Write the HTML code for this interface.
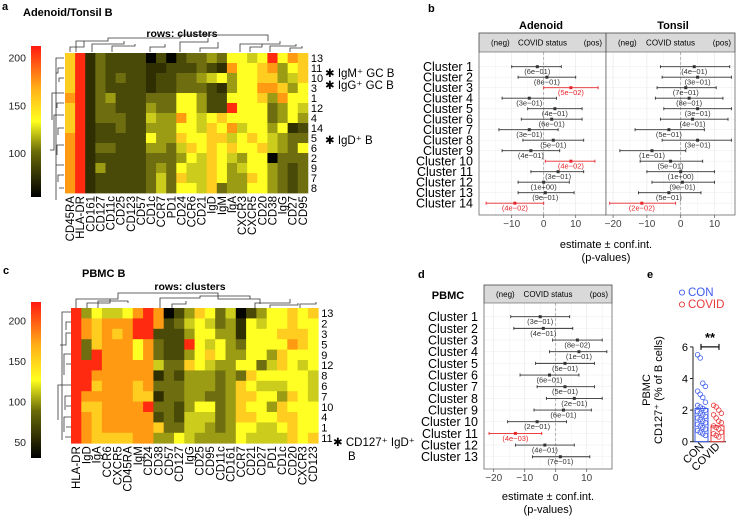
<!DOCTYPE html>
<html><head><meta charset="utf-8"><style>
html,body{margin:0;padding:0;background:#fff;}
svg{display:block;font-family:"Liberation Sans",sans-serif;}
</style></head><body>
<svg id="fig" width="736" height="517" viewBox="0 0 736 517" xmlns="http://www.w3.org/2000/svg">
<defs>
<linearGradient id="cbar" x1="0" y1="1" x2="0" y2="0">
<stop offset="0" stop-color="#000000"/><stop offset="0.3" stop-color="#6a6a08"/><stop offset="0.5" stop-color="#ffff20"/><stop offset="0.72" stop-color="#ffb018"/><stop offset="1" stop-color="#ff1a10"/>
</linearGradient>
</defs>
<g font-weight="bold" font-size="11">
<text x="2" y="10">a</text><text x="428" y="12">b</text><text x="3" y="274">c</text><text x="418" y="278">d</text><text x="647" y="278">e</text>
</g>
<text x="23" y="16" font-size="11" font-weight="bold">Adenoid/Tonsil B</text>
<text x="182" y="37" font-size="10.5" font-weight="bold" text-anchor="middle">rows: clusters</text>
<text x="82" y="277" font-size="11" font-weight="bold">PBMC B</text>
<text x="190" y="290" font-size="10.5" font-weight="bold" text-anchor="middle">rows: clusters</text>

<g fill="none" stroke="#333" stroke-width="0.8">
<path d="M76 52V41H108V38H180V35H268V41 M70 52V47H84V41 M92 52V44H124V41 M112 52V46H135V44 M150 52V47H165V44 M180 52V42H208V38 M200 52V48H218V42 M240 52V44H280V41 M250 52V47H262V44 M270 52V46H296V44 M290 52V48H302V46"/>
<path d="M64 58H56V200 M64 68H58V73H56 M64 78H59V82 M64 93H52V120 M64 103H57V108 M64 115H54V150H50 M64 128H58V135 M64 145H57V155 M64 165H56V180 M64 175H58V182 M64 188H59"/>
</g>
<g fill="none" stroke="#333" stroke-width="0.8">
<path d="M76 308V299H118V293H218V299H260V304 M87 308V303H110V299 M98 308V301H128V303 M160 308V298H200V296H250V299 M172 308V304H186V301 M255 308V303H290V299 M270 308V305H298V303 M300 308V304H316V302"/>
<path d="M71 312H62V440 M71 322H66V330 M71 333H66V345H60 M71 354H64V375 M71 364H66 M71 385H58V420 M71 396H65V410 M71 406H66 M71 417H64V432 M71 427H66 M71 437H65"/>
</g>

<g id="hmA"></g>
<g id="hmC"></g>
<g id="fb"></g>
<g id="fd"></g>
<g id="pe"></g>
</svg>
<script>
const NS='http://www.w3.org/2000/svg';
function mk(tag,attrs,parent,text){const e=document.createElementNS(NS,tag);for(const k in attrs)e.setAttribute(k,attrs[k]);if(text!==undefined)e.textContent=text;parent.appendChild(e);return e;}

// ---------- Heatmap data ----------
const colsA=['CD45RA','HLA-DR','CD161','CD127','CD11c','CD25','CD123','CD57','CD1c','CCR7','PD1','CD24','CCR6','CD21','IgD','IgM','IgA','CXCR3','CXCR5','CD20','CD38','IgG','CD27','CD95'];
const rowsA=['13','11','10','3','1','12','4','14','5','6','2','9','7','8'];
const valsA=[
[7,9,1,3,2,2,2,2,0,2,0,2,3,3,4,3,6,6,5,6,9,6,8,7],
[7,9,1,3,2,2,2,2,1,1,2,2,2,3,2,1,8,6,6,7,8,4,6,7],
[7,9,1,3,2,3,2,2,1,2,2,3,3,4,5,6,4,6,6,7,7,4,5,7],
[7,9,1,3,2,2,2,2,1,2,2,3,3,3,2,1,4,6,6,8,8,7,4,6],
[8,9,1,3,4,2,2,2,3,3,3,6,6,4,2,2,6,6,6,7,4,8,6,6],
[7,9,1,3,3,2,2,2,4,3,3,6,6,4,2,2,9,6,6,6,3,4,6,5],
[7,9,1,3,3,3,2,2,5,4,4,8,6,5,6,7,6,6,6,6,3,4,6,4],
[7,9,1,2,2,3,2,2,4,4,4,6,6,5,7,6,8,5,6,6,4,6,1,2],
[8,9,1,2,2,2,2,2,6,4,4,7,6,6,7,7,5,6,7,6,5,4,3,3],
[8,9,1,3,3,2,2,2,4,4,3,5,7,6,7,6,7,6,6,7,5,4,3,6],
[8,9,1,2,2,2,2,2,3,3,3,4,6,5,7,6,5,4,6,6,0,3,3,3],
[8,9,1,4,2,2,2,2,3,4,3,6,5,5,7,6,4,5,6,6,4,3,2,3],
[8,9,1,2,2,2,2,2,3,5,3,7,5,5,7,6,4,4,7,6,4,3,2,3],
[8,9,1,2,2,2,2,2,3,5,3,6,6,5,7,3,4,4,6,6,4,3,2,3]];
const ticksA=[200,150,100];
const colsC=['HLA-DR','IgD','IgA','CCR6','CXCR5','CD45RA','IgM','CD24','CD38','CD57','CD127','IgG','CD25','CD95','CD11c','CD161','CCR7','CD21','CD27','PD1','CD1c','CD20','CXCR3','CD123'];
const rowsC=['13','2','3','5','9','12','8','6','7','10','4','1','11'];
const valsC=[
[9,4,6,5,5,6,8,9,8,0,2,4,7,6,3,5,0,2,4,6,6,7,6,7],
[9,8,7,8,8,8,9,9,8,2,3,5,6,5,3,4,1,6,5,6,6,7,6,6],
[9,8,7,8,7,8,9,9,2,2,2,4,6,6,4,4,1,6,6,6,7,7,7,6],
[9,3,7,8,8,8,6,8,3,2,2,9,6,5,6,4,3,6,6,6,6,8,7,6],
[9,3,9,8,8,8,6,8,3,2,2,4,6,7,6,4,4,6,6,4,7,6,6,6],
[9,9,9,8,8,8,8,8,5,3,3,7,6,5,4,4,6,6,3,5,7,6,5,6],
[9,9,8,8,8,8,8,8,1,3,2,4,4,4,3,4,3,7,6,6,6,6,6,5],
[9,9,7,8,8,8,7,8,3,3,3,4,4,4,3,4,7,6,5,5,5,6,6,5],
[9,8,8,8,8,8,7,7,1,3,3,4,4,3,3,4,7,7,6,6,4,7,6,5],
[9,7,7,8,8,8,8,9,3,3,2,4,6,6,3,4,7,6,6,4,7,6,6,6],
[9,8,7,8,8,8,8,8,2,3,2,5,5,5,3,4,7,7,6,6,7,7,6,6],
[9,8,7,8,8,8,8,8,7,3,3,5,5,4,3,4,6,6,5,5,6,7,6,6],
[9,8,7,7,7,7,8,8,4,4,6,5,4,4,4,4,6,5,5,5,5,7,6,7]];
const ticksC=[200,150,100,50];
const palette=['#050500','#2f2f02','#4a4a08','#6e6e10','#9c9c14','#cccc1c','#ffff24','#ffcc20','#ff9a12','#ff2a10'];

function heatmap(g,cols,rows,vals,x0,y0,cw,ch,cb,ticks,tv){
  vals.forEach((row,i)=>row.forEach((v,j)=>{
    const r=mk('rect',{x:x0+j*cw,y:y0+i*ch,width:cw+0.4,height:ch+0.4,fill:palette[v]},g);
    
    
  }));
  rows.forEach((lab,i)=>{
    const t=mk('text',{x:x0+cols.length*cw+3,y:y0+i*ch+ch/2+4,'font-size':11},g,lab);
    
    
  });
  cols.forEach((lab,j)=>{
    const cx=x0+j*cw+cw/2+4, cy=y0+rows.length*ch+3;
    const t=mk('text',{x:cx,y:cy,'font-size':11.5,'text-anchor':'end',transform:`rotate(-90 ${cx} ${cy})`},g,lab);
    
    
  });
  const bar=mk('rect',{x:31,y:cb.top,width:10,height:cb.bot-cb.top,fill:'url(#cbar)'},g);
  
  
  ticks.forEach(v=>{
    const y=cb.bot-(v-tv[0])/(tv[1]-tv[0])*(cb.bot-cb.top);
    const t=mk('text',{x:26,y:y+4,'font-size':10.5,'text-anchor':'end',fill:'#222'},g,String(v));
    
    
  });
}
heatmap(document.getElementById('hmA'),colsA,rowsA,valsA,65,53,10.12,10,{top:46,bot:197},ticksA,[54,212]);
heatmap(document.getElementById('hmC'),colsC,rowsC,valsC,71,308,10.3,10.4,{top:302,bot:458},ticksC,[30,223]);

// annotations
(function(){
  const g=document.getElementById('hmA');
  [['IgM⁺ GC B',77],['IgG⁺ GC B',89],['IgD⁺ B',144]].forEach(a=>{
    const t=mk('text',{x:325,y:a[1],'font-size':11.5},g,'✱ '+a[0]);
    
    
  });
  const gc=document.getElementById('hmC');
  const t=mk('text',{x:333,y:446,'font-size':11.5},gc,'✱ CD127⁺ IgD⁺');
  
  
  const t2=mk('text',{x:348,y:460,'font-size':11.5},gc,'B');
  
  
})();

// ---------- Forest data ----------
const adenoidEst=[-2,1,8.5,-4.5,3.5,2.5,-4.5,3,-4,8.5,4.5,0,0.5,-9];
const adenoidLo=[-10,-8,0,-13,-5,-7,-14,-6.5,-13,0.5,-4,-8,-8,-18];
const adenoidHi=[5.5,10,17,4,12,12,4.5,12.5,5,16,12.5,8,9.5,0];
const adenoidP=['6e−01','8e−01','5e−02','3e−01','4e−01','6e−01','3e−01','5e−01','4e−01','4e−02','3e−01','1e+00','9e−01','4e−02'];
const tonsilEst=[4,5,1.5,2.5,5,3.5,-3.5,5,-8.5,-3,0,0.5,-3.5,-11.5];
const tonsilLo=[-6,-5.5,-7,-7.5,-5,-6,-13.5,-5.5,-18,-12,-10,-8.5,-12.5,-21];
const tonsilHi=[14.5,15,10.5,12.5,15,14,7,15,1.5,6.5,10,10,6,-1.5];
const tonsilP=['4e−01','3e−01','7e−01','8e−01','3e−01','4e−01','5e−01','3e−01','1e−01','5e−01','1e+00','9e−01','5e−01','2e−02'];
const pbmcEst=[-5,-4,7,7.5,3,-2,3,6,2.5,-6,-13,-3.5,1.5];
const pbmcLo=[-14.5,-13.5,-1,-2,-6.5,-11.5,-6,-3,-7,-15.5,-21.5,-13,-7.5];
const pbmcHi=[4.5,5.5,15,16.5,12.5,7.5,12.5,15,11.5,3.5,-4.5,6,11];
const pbmcP=['3e−01','4e−01','8e−02','1e−01','5e−01','6e−01','5e−01','2e−01','6e−01','2e−01','4e−03','4e−01','7e−01'];
const adenoidTicks=[-10,0,10];
const tonsilTicks=[-20,-10,0,10];
const pbmcTicks=[-20,-10,0,10];

function facet(g,f,est,lo,hi,pv,ticks){
  const X=v=>f.zero+v*f.k;
  const body=mk('rect',{x:f.x0,y:f.sy1,width:f.x1-f.x0,height:f.by-f.sy1,fill:'#fff'},g);
  
  
  for(let v=-25;v<=20;v+=5){const x=X(v);if(x>f.x0+1&&x<f.x1-1){mk('line',{x1:x,x2:x,y1:f.sy1,y2:f.by,stroke:v%10===0?'#e6e6e6':'#f2f2f2','stroke-width':0.6},g);}}
  est.forEach((_,i)=>{const y=f.y0+i*f.dy;mk('line',{x1:f.x0,x2:f.x1,y1:y,y2:y,stroke:'#efefef','stroke-width':0.6},g);});
  mk('line',{x1:X(0),x2:X(0),y1:f.sy1,y2:f.by,stroke:'#999','stroke-width':0.7,'stroke-dasharray':'3,2'},g);
  const strip=mk('rect',{x:f.x0,y:f.sy0,width:f.x1-f.x0,height:f.sy1-f.sy0,fill:'#d9d9d9',stroke:'#555','stroke-width':0.6},g);
  
  
  const sy=(f.sy0+f.sy1)/2+3;
  mk('text',{x:f.x0+12,y:sy,'font-size':8},g,'(neg)');
  mk('text',{x:(f.x0+f.x1)/2,y:sy,'font-size':8,'text-anchor':'middle'},g,'COVID status');
  mk('text',{x:f.x1-4,y:sy,'font-size':8,'text-anchor':'end'},g,'(pos)');
  mk('rect',{x:f.x0,y:f.sy0,width:f.x1-f.x0,height:f.by-f.sy0,fill:'none',stroke:'#555','stroke-width':0.7},g);
  est.forEach((e,i)=>{
    const y=f.y0+i*f.dy, red=pv[i]==='5e−02'||pv[i]==='4e−02'||pv[i]==='2e−02'||pv[i]==='4e−03';
    const c=red?'#e8262a':'#333';
    const l=mk('line',{x1:X(lo[i]),x2:X(hi[i]),y1:y,y2:y,stroke:c,'stroke-width':0.9},g);
    
    
    mk('line',{x1:X(lo[i]),x2:X(lo[i]),y1:y-1.5,y2:y+1.5,stroke:c,'stroke-width':0.9},g);
    mk('line',{x1:X(hi[i]),x2:X(hi[i]),y1:y-1.5,y2:y+1.5,stroke:c,'stroke-width':0.9},g);
    const d=mk('rect',{x:X(e)-1.5,y:y-1.5,width:3,height:3,fill:c},g);
    
    
    const t=mk('text',{x:X(e),y:y+7.5,'font-size':7.5,'text-anchor':'middle',fill:c,'font-family':'Liberation Sans Narrow, Liberation Sans, sans-serif'},g,'('+pv[i]+')');
    
    
  });
  ticks.forEach(v=>{
    mk('line',{x1:X(v),x2:X(v),y1:f.by,y2:f.by+3,stroke:'#555','stroke-width':0.7},g);
    const t=mk('text',{x:X(v),y:f.by+12,'font-size':10,'text-anchor':'middle',fill:'#444'},g,v<0?'−'+(-v):String(v));
    
    
  });
}
function clusterLabels(g,n,xr,y0,dy,fs){
  for(let i=0;i<n;i++){
    const t=mk('text',{x:xr,y:y0+i*dy+4.5,'font-size':fs,'text-anchor':'end'},g,'Cluster '+(i+1));
    
    
  }
}
(function(){
  const g=document.getElementById('fb');
  facet(g,{x0:479,x1:606,zero:543.7,k:3.2,sy0:33,sy1:52,by:215,y0:66.7,dy:10.5},adenoidEst,adenoidLo,adenoidHi,adenoidP,adenoidTicks);
  facet(g,{x0:606,x1:735,zero:680.7,k:3.38,sy0:33,sy1:52,by:215,y0:66.7,dy:10.5},tonsilEst,tonsilLo,tonsilHi,tonsilP,tonsilTicks);
  clusterLabels(g,14,473,66.7,10.5,12.5);
  let t=mk('text',{x:541,y:29,'font-size':11,'font-weight':'bold','text-anchor':'middle'},g,'Adenoid');
  
  t=mk('text',{x:673,y:29,'font-size':11,'font-weight':'bold','text-anchor':'middle'},g,'Tonsil');
  
  t=mk('text',{x:606,y:248,'font-size':11,'text-anchor':'middle'},g,'estimate ± conf.int.');
  
  mk('text',{x:606,y:261,'font-size':11,'text-anchor':'middle'},g,'(p-values)');
})();
(function(){
  const g=document.getElementById('fd');
  facet(g,{x0:484,x1:612,zero:555.7,k:3.1,sy0:285,sy1:303,by:469,y0:316.7,dy:11.67},pbmcEst,pbmcLo,pbmcHi,pbmcP,pbmcTicks);
  clusterLabels(g,13,478,316.7,11.67,12.5);
  let t=mk('text',{x:448,y:299,'font-size':11,'font-weight':'bold','text-anchor':'middle'},g,'PBMC');
  
  t=mk('text',{x:548,y:500,'font-size':11,'text-anchor':'middle'},g,'estimate ± conf.int.');
  
  mk('text',{x:548,y:513,'font-size':11,'text-anchor':'middle'},g,'(p-values)');
})();

// ---------- Panel e ----------
const groups=['CON','COVID'];
const groupMeans=[2.1,1.0];
const conPoints=[5.5,5.3,3.7,3.5,3.2,3.0,2.8,2.5,2.3,2.2,2.1,2.0,1.9,1.8,1.7,1.6,1.5,1.4,1.3,1.2,1.1,1.0,0.9,0.8,0.7,0.6,0.5,0.4];
const covidPoints=[2.3,2.2,2.0,1.8,1.7,1.5,1.3,1.2,1.0,0.9,0.8,0.6,0.5,0.4,0.3];
const yTicksE=[0,2,4,6];
(function(){
  const g=document.getElementById('pe');
  const Y=v=>441.7-v*15.8;
  const colors=['#3d5bea','#e8383a'];
  const bx=[695,711], bw=13;
  const ax=mk('line',{x1:693,x2:693,y1:Y(6),y2:Y(0),stroke:'#222','stroke-width':1},g);
  
  mk('line',{x1:693,x2:726,y1:Y(0),y2:Y(0),stroke:'#222','stroke-width':1},g);
  yTicksE.forEach(v=>{
    mk('line',{x1:690,x2:693,y1:Y(v),y2:Y(v),stroke:'#222'},g);
    const t=mk('text',{x:688,y:Y(v)+4,'font-size':11,'text-anchor':'end'},g,String(v));
    
  });
  groupMeans.forEach((m,i)=>{
    const r=mk('rect',{x:bx[i],y:Y(m),width:bw,height:Y(0)-Y(m),fill:'none',stroke:colors[i],'stroke-width':1},g);
    
  });
  [conPoints,covidPoints].forEach((pts,i)=>{
    pts.forEach((v,k)=>{
      const off=((k%4)-1.5)*2.6;
      const c=mk('circle',{cx:bx[i]+bw/2+off,cy:Y(v),r:2.3,fill:'none',stroke:colors[i],'stroke-width':0.8},g);
      
    });
  });
  mk('path',{d:`M701 ${Y(6)-3}v6M701 ${Y(6)}H719M719 ${Y(6)-3}v6`,stroke:'#111','stroke-width':1.2,fill:'none'},g);
  let t=mk('text',{x:710,y:Y(6)-5,'font-size':13,'font-weight':'bold','text-anchor':'middle'},g,'**');
  
  groups.forEach((gn,i)=>{
    const cx=bx[i]+bw/2+3, cy=447;
    const t=mk('text',{x:cx,y:cy,'font-size':11,'text-anchor':'end',transform:`rotate(-45 ${cx} ${cy})`},g,gn);
    
  });
  t=mk('text',{x:650,y:390,'font-size':11,'text-anchor':'middle',transform:'rotate(-90 650 390)'},g,'PBMC');
  
  t=mk('text',{x:662,y:390,'font-size':11,'text-anchor':'middle',transform:'rotate(-90 662 390)'},g,'CD127⁺ (% of B cells)');
  
  groups.forEach((gn,i)=>{
    const y=296+i*12;
    const c=mk('circle',{cx:682,cy:y-3.5,r:2.6,fill:'none',stroke:colors[i],'stroke-width':0.9},g);
    
    const t=mk('text',{x:688,y:y,'font-size':11.5,fill:colors[i]},g,gn);
    
  });
})();
</script>
</body></html>
